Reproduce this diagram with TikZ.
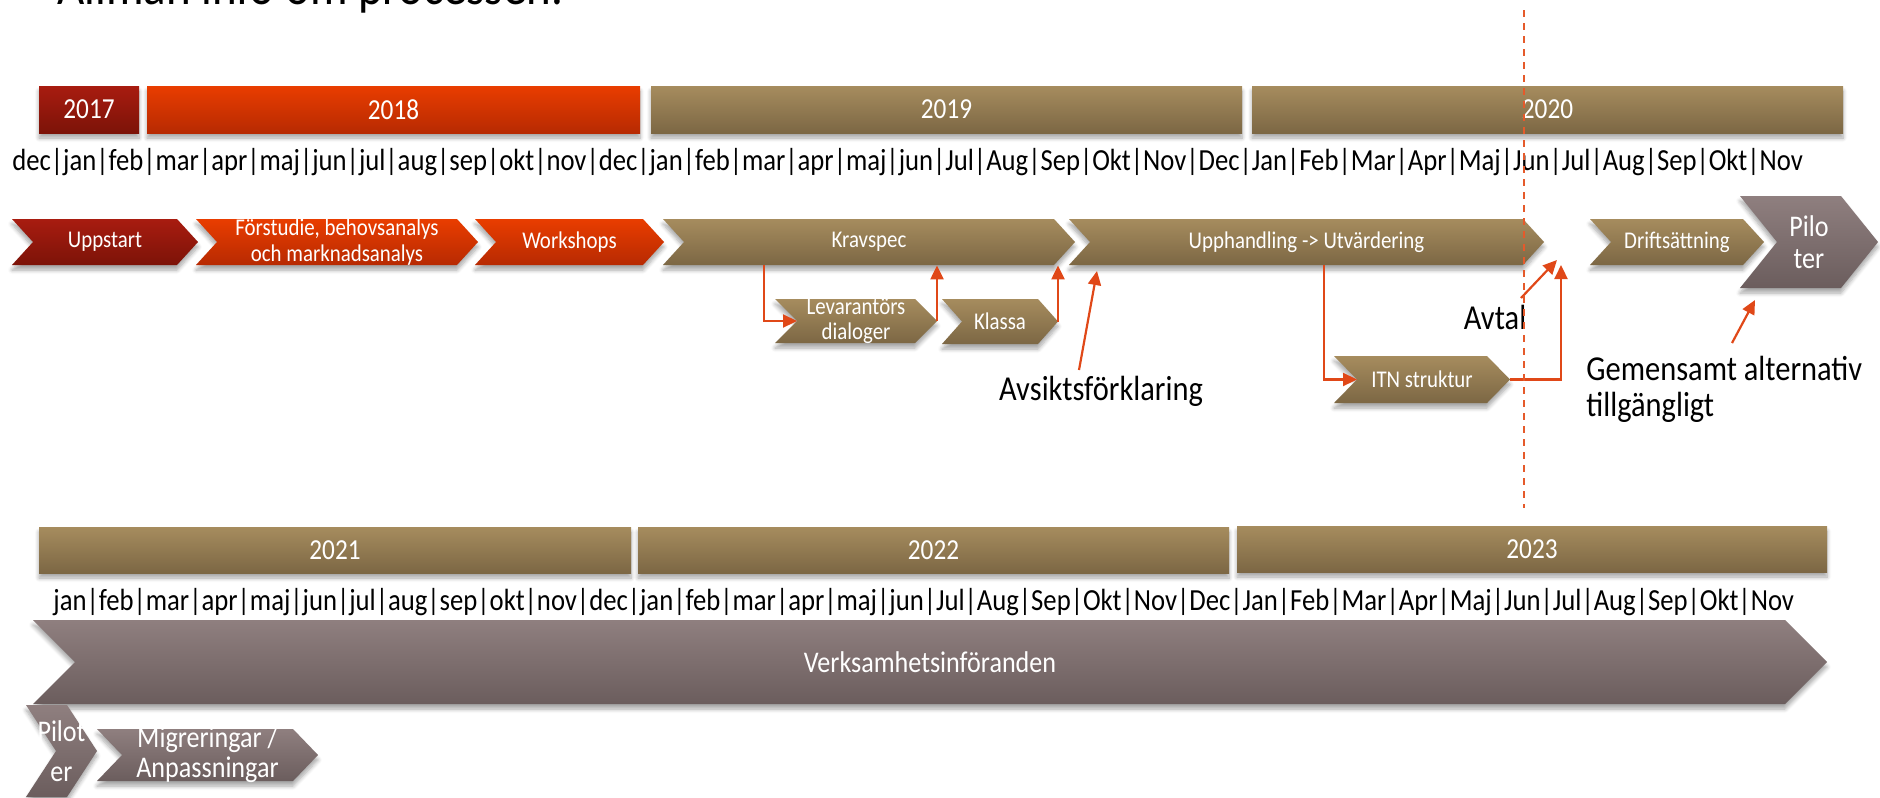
\documentclass[tikz,border=0pt]{standalone}
\usepackage{fontspec}
\setmainfont[FakeStretch=0.87]{Carlito}
\usetikzlibrary{calc,arrows.meta,shadows.blur}
\definecolor{redT}{HTML}{A81C10}
\definecolor{redB}{HTML}{7C1308}
\definecolor{orT}{HTML}{E93D00}
\definecolor{orB}{HTML}{B72A02}
\definecolor{tanT}{HTML}{A68C5E}
\definecolor{tanB}{HTML}{7C6744}
\definecolor{mvT}{HTML}{8F7F7F}
\definecolor{mvB}{HTML}{6B5D5D}
\definecolor{arrC}{HTML}{E04818}
\definecolor{dashC}{HTML}{E55A2B}
% name, fill style, x1, x2, y1, y2, text
\newcommand\ybar[7]{%
  \node[#2, shad, inner sep=0pt, text=white, font=\fontsize{14.5}{17}\selectfont,
        minimum width={(#4-#3)*0.5pt}, minimum height={(#6-#5)*0.5pt}]
        (#1) at ({(#3+#4)/2},{(#5+#6)/2}) {#7};}
% name, fill style, x1, x2, y1, y2, depth, font, text
\newcommand\mychev[9]{%
  \path[#2, shad] (#3,#5) -- ({#4-#7},#5) -- (#4,{(#5+#6)/2}) -- ({#4-#7},#6)
     -- (#3,#6) -- ({#3+#7},{(#5+#6)/2}) -- cycle;
  \node[wtxt, font=#8, minimum width={(#4-#3)*0.5pt}, minimum height={(#6-#5)*0.5pt}]
     (#1) at ({(#3+#4)/2},{(#5+#6)/2}) {#9};
  \coordinate (#1-in) at ({#3+#7},{(#5+#6)/2});
  \coordinate (#1-tip) at (#4,{(#5+#6)/2});}
\begin{document}
\begin{tikzpicture}[x=0.5pt,y=-0.5pt,
  shad/.style={blur shadow={shadow xshift=0pt,shadow yshift=-2.5pt,shadow blur steps=6,shadow opacity=35,shadow blur radius=2pt}},
  cred/.style={top color=redT,bottom color=redB},
  corange/.style={top color=orT,bottom color=orB},
  ctan/.style={top color=tanT,bottom color=tanB},
  cmauve/.style={top color=mvT,bottom color=mvB},
  wtxt/.style={text=white,align=center,inner sep=0pt},
  arr/.style={draw=arrC,line width=1.1pt,-{Triangle[length=7pt,width=6.5pt]}},
  lbl/.style={text=black,font=\fontsize{17.5}{18}\selectfont,inner sep=0pt},
  month/.style={inner sep=0pt,anchor=west,text=black}]
\useasboundingbox (0,0) rectangle (1880,798);
\begin{scope}
\clip (0,0) rectangle (1880,798);
% title (cut by the top edge)
\node[anchor=base west,inner sep=0pt,font=\fontsize{27}{30}\selectfont] (title) at (57,4) {Allmän info om processen.};

% ---- year bars, top
\ybar{y17}{cred}{39}{139}{86}{133}{2017}
\ybar{y18}{corange}{147}{640}{86}{133}{2018}
\ybar{y19}{ctan}{651}{1242}{86}{133}{2019}
\ybar{y20}{ctan}{1252}{1843}{86}{133}{2020}
\node[month] (m1) at (12,162) {\resizebox{895.5pt}{!}{dec|jan|feb|mar|apr|maj|jun|jul|aug|sep|okt|nov|dec|jan|feb|mar|apr|maj|jun|Jul|Aug|Sep|Okt|Nov|Dec|Jan|Feb|Mar|Apr|Maj|Jun|Jul|Aug|Sep|Okt|Nov}};

% ---- process chevrons
\def\cf{\fontsize{12}{13.5}\selectfont}
\mychev{upp}{cred}{12}{198}{219}{265}{21}{\cf}{Uppstart}
\mychev{fors}{corange}{196}{478}{219}{265}{21}{\fontsize{12}{13}\selectfont}{Förstudie, behovsanalys\\och marknadsanalys}
\mychev{work}{corange}{475}{664}{219}{265}{21}{\cf}{Workshops}
\mychev{krav}{ctan}{663}{1075}{219}{265}{21}{\cf}{Kravspec}
\mychev{upph}{ctan}{1069}{1544}{219}{265}{21}{\cf}{Upphandling -> Utvärdering}
\mychev{drift}{ctan}{1590}{1764}{219}{265}{21}{\cf}{Driftsättning}
\mychev{pilo}{cmauve}{1740}{1878}{196}{288}{37}{\fontsize{15}{16}\selectfont}{Pilo\\ter}
\mychev{lev}{ctan}{775}{937}{299}{343}{22}{\fontsize{12}{12.5}\selectfont}{Levarantörs\\dialoger}
\mychev{kl}{ctan}{942}{1058}{299}{344}{20}{\cf}{Klassa}
\mychev{itn}{ctan}{1334}{1510}{356}{403}{23}{\cf}{ITN struktur}

% ---- connectors
\draw[arr] ($(krav.south west)+(101,0)$) |- (lev-in);
\draw[arr] (lev-tip) -- (lev-tip |- krav.south);
\draw[arr] (kl-tip) -- (kl-tip |- krav.south);
\draw[arr] ($(upph.south west)+(255,0)$) |- (itn-in);
\coordinate (sign) at (1561,265);
\draw[arr] (itn-tip) -| (sign);

% ---- labels
\node[lbl] (avs) at (1101,391) {Avsiktsförklaring};
\coordinate (avs-a) at (1079,370);
\coordinate (avs-b) at (1097,271);
\draw[arr] (avs-a) -- (avs-b);
\node[lbl] (avtal) at (1495,317) {Avtal};
\coordinate (avt-a) at (1521,298);
\coordinate (avt-b) at (1557,260);
\draw[arr] (avt-a) -- (avt-b);
\node[lbl,anchor=west,align=left] (gem) at (1586,389) {Gemensamt alternativ\\tillgängligt};
\coordinate (gem-a) at (1732,343);
\coordinate (gem-b) at (1755,300);
\draw[arr] (gem-a) -- (gem-b);

% ---- lower timeline
\ybar{y21}{ctan}{39}{631}{527}{573}{2021}
\ybar{y22}{ctan}{638}{1229}{527}{573}{2022}
\ybar{y23}{ctan}{1237}{1827}{526}{572}{2023}
\node[month] (m2) at (53,602) {\resizebox{870.5pt}{!}{jan|feb|mar|apr|maj|jun|jul|aug|sep|okt|nov|dec|jan|feb|mar|apr|maj|jun|Jul|Aug|Sep|Okt|Nov|Dec|Jan|Feb|Mar|Apr|Maj|Jun|Jul|Aug|Sep|Okt|Nov}};
\mychev{verk}{cmauve}{33}{1827}{620}{704}{42}{\fontsize{15}{16}\selectfont}{Verksamhetsinföranden}
\mychev{pil}{cmauve}{26}{97}{705}{797}{30}{\fontsize{15}{20}\selectfont}{Pilot\\er}
\mychev{mig}{cmauve}{97}{318}{729}{781}{25}{\fontsize{15}{15}\selectfont}{Migreringar /\\Anpassningar}

% ---- today line
\coordinate (d-top) at (1524,10);
\coordinate (d-bot) at (1524,508);
\draw[dashC,line width=1.1pt,dash pattern=on 3.5pt off 3pt] (d-top) -- (d-bot);
\end{scope}
\end{tikzpicture}
\end{document}
